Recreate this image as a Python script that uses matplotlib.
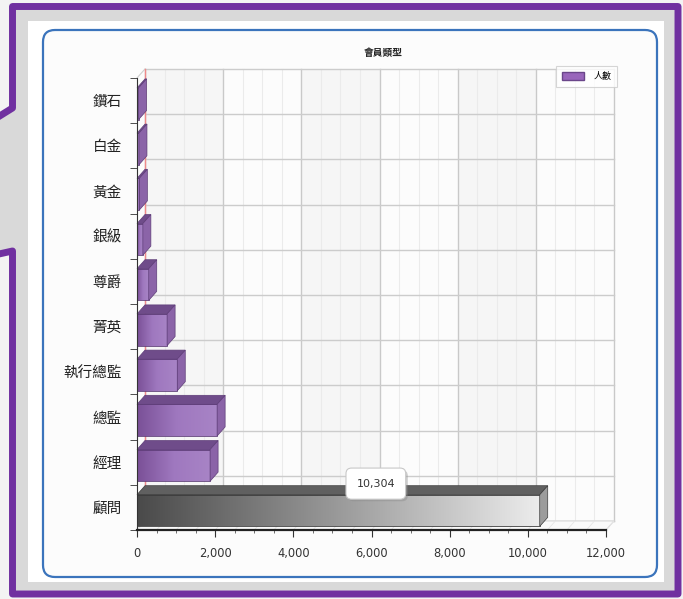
import matplotlib
matplotlib.use("Agg")
import matplotlib.pyplot as plt
import matplotlib.patheffects as pe
import numpy as np
from matplotlib.patches import Polygon, Rectangle, FancyBboxPatch, Patch
from matplotlib.colors import LinearSegmentedColormap

plt.rcParams['font.family'] = ['Noto Sans CJK TC', 'DejaVu Sans']

# data (top to bottom as shown)
categories = ["鑽石", "白金", "黃金", "銀級", "尊爵", "菁英", "執行總監", "總監", "經理", "顧問"]
counts = [40, 50, 60, 150, 300, 770, 1030, 2050, 1870, 10304]
title = "會員類型"
series_name = "人數"
x_ticks = [0, 2000, 4000, 6000, 8000, 10000, 12000]

W, H = 683, 599
fig = plt.figure(figsize=(W / 100, H / 100), dpi=100)
fig.patch.set_facecolor("#f3f3f3")

# ---- page decoration (pixel coords) ----
bg = fig.add_axes([0, 0, 1, 1], zorder=-10)
bg.set_xlim(0, W)
bg.set_ylim(H, 0)
bg.axis("off")
frame = [(-10, 122), (12.5, 108), (12.5, 6.5), (678, 6.5), (678, 594),
         (12.5, 594), (12.5, 251), (-10, 256)]
bg.add_patch(Polygon(frame, closed=True, facecolor="#d9d9d9",
                     edgecolor="#7030a0", lw=5, joinstyle="round"))
bg.add_patch(Rectangle((28, 21), 636, 561, facecolor="white", edgecolor="none"))
bg.add_patch(FancyBboxPatch((43, 30), 614, 547, boxstyle="round,pad=0,rounding_size=12",
                            facecolor="#fcfcfc", edgecolor="#3b74bc", lw=1.6))

# ---- chart ----
ax = fig.add_axes([137 / W, (H - 530) / H, 469 / W, 452 / H])
ax.patch.set_alpha(0)
xmax = 12000
ax.set_xlim(0, xmax)
ax.set_ylim(9.5, -0.5)
dx = 8 * xmax / 469   # 3d depth, x
dy = 0.2              # 3d depth, y
top_b, bot_b = -0.5 - dy, 9.5 - dy

# back wall bands
for k in range(0, xmax, 4000):
    ax.add_patch(Rectangle((k + dx, top_b), 2000, 10, facecolor="#f6f6f6",
                           edgecolor="none", clip_on=False, zorder=0))
# minor & major vertical grid on the back wall
for x in np.arange(0, xmax + 1, 500):
    major = x % 2000 == 0
    ax.plot([x + dx, x + dx], [top_b, bot_b], color="#c9c9c9" if major else "#ebebeb",
            lw=1 if major else 0.8, clip_on=False, zorder=1)
for yb in np.arange(-0.5, 9.6, 1):
    ax.plot([dx, xmax + dx], [yb - dy, yb - dy], color="#cccccc", lw=1, clip_on=False, zorder=1)
ax.plot([dx, dx], [top_b, bot_b], color="#f08a8a", lw=1, clip_on=False, zorder=2)
# floor
ax.add_patch(Polygon([(0, 9.5), (xmax, 9.5), (xmax + dx, bot_b), (dx, bot_b)],
                     facecolor="#fafafa", edgecolor="#d8d8d8", lw=0.8, clip_on=False, zorder=1))
for x in np.arange(0, xmax + 1, 500):
    ax.plot([x, x + dx], [9.5, bot_b], color="#e6e6e6", lw=0.6, clip_on=False, zorder=1)
ax.plot([0, dx], [-0.5, top_b], color="#cfcfcf", lw=0.8, clip_on=False, zorder=1)

# bars
ypos = np.arange(len(categories))
h = 0.7
yc = ypos + 0.07
purple = LinearSegmentedColormap.from_list("p", ["#7a5097", "#9f78bf", "#a884c6"])
grey = LinearSegmentedColormap.from_list("g", ["#4a4a4a", "#9a9a9a", "#ececec"])
bars = ax.barh(yc, counts, height=h, facecolor="none", edgecolor="none", zorder=5)
grad = np.linspace(0, 1, 256).reshape(1, -1)
for i, (b, v) in enumerate(zip(bars, counts)):
    last = i == len(counts) - 1
    y0, y1 = b.get_y(), b.get_y() + b.get_height()
    cmap = grey if last else purple
    topc = "#606060" if last else "#6f4c8a"
    sidec = "#9c9c9c" if last else "#8b64a8"
    edge = "#3c3c3c" if last else "#5e3d78"
    ax.imshow(grad, extent=(0, v, y1, y0), cmap=cmap, aspect="auto", zorder=5)
    ax.add_patch(Rectangle((0, y0), v, h, facecolor="none", edgecolor=edge, lw=0.6, zorder=6))
    ax.add_patch(Polygon([(0, y0), (v, y0), (v + dx, y0 - dy), (dx, y0 - dy)],
                         facecolor=topc, edgecolor=edge, lw=0.5, zorder=6, clip_on=False))
    ax.add_patch(Polygon([(v, y0), (v + dx, y0 - dy), (v + dx, y1 - dy), (v, y1)],
                         facecolor=sidec, edgecolor=edge, lw=0.5, zorder=6, clip_on=False))
ax.set_xlim(0, xmax)
ax.set_ylim(9.5, -0.5)

# value label
vi = len(counts) - 1
lx, ly = counts[vi] / 2, bars[vi].get_y() - dy
lab = ax.annotate(f"{counts[vi]:,}", xy=(lx, ly), xytext=(27, 1.5),
                  textcoords="offset points", ha="center", va="center", fontsize=8,
                  family="DejaVu Sans", color="#333333", zorder=9,
                  bbox=dict(boxstyle="round,pad=0.95,rounding_size=0.5", fc="white",
                            ec="#c8c8c8", lw=0.8))
lab.get_bbox_patch().set_path_effects([pe.withSimplePatchShadow(offset=(1.5, -1.5),
                                                                 shadow_rgbFace="#888888", alpha=0.4)])

# axes styling
for s in ["top", "right"]:
    ax.spines[s].set_visible(False)
ax.spines["left"].set_color("#333333")
ax.spines["left"].set_zorder(7)
ax.spines["bottom"].set_color("#222222")
ax.spines["bottom"].set_linewidth(1.6)
ax.spines["bottom"].set_zorder(7)
ax.set_yticks(ypos, categories)
ax.set_yticks(np.arange(-0.5, 9.6, 1), minor=True)
ax.tick_params(axis="y", which="major", length=0, pad=11, labelsize=10.5, labelcolor="#222222")
ax.tick_params(axis="y", which="minor", length=5, color="#333333")
ax.set_xticks(x_ticks, [f"{t:,}" for t in x_ticks])
ax.set_xticks(np.arange(0, xmax + 1, 500), minor=True)
ax.tick_params(axis="x", which="major", length=5, pad=7, labelsize=8.3, labelcolor="#333333",
               color="#333333")
ax.tick_params(axis="x", which="minor", length=2.5, color="#555555")
for t in ax.get_xticklabels():
    t.set_family("DejaVu Sans")

fig.text(383 / W, 1 - 53 / H, title, ha="center", va="center", fontsize=7,
         fontweight="bold", color="#222222")
leg = fig.legend(handles=[Patch(facecolor="#9966bb", edgecolor="#6a468a", label=series_name)],
                 loc="upper right", bbox_to_anchor=(622 / W, 1 - 61 / H), fontsize=6.5,
                 fancybox=False, edgecolor="#cccccc", handlelength=2.4, handleheight=1.0,
                 borderpad=0.7, handletextpad=1.0)
leg.get_frame().set_linewidth(0.8)

fig.savefig("out.png", dpi=100)
